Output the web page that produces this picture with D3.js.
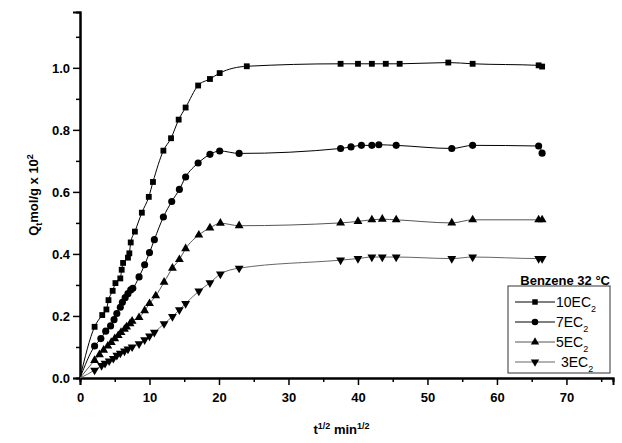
<!DOCTYPE html>
<html><head><meta charset="utf-8">
<script src="https://cdn.jsdelivr.net/npm/d3@7"></script>
<style>body{margin:0;background:#fff}text{font-family:Arial,"Liberation Sans",sans-serif}</style>
</head><body><svg id="chart" width="622" height="443"></svg>
<script>
// series data: [t^1/2, Qt]
var s10 = [[2.1,0.165],[3.2,0.203],[3.8,0.221],[4.1,0.251],[4.7,0.281],[5.1,0.306],[5.8,0.321],[6.0,0.349],[6.2,0.371],[6.9,0.388],[7.1,0.402],[7.3,0.437],[7.9,0.472],[8.9,0.533],[9.9,0.584],[10.5,0.632],[12.0,0.733],[13.1,0.773],[14.2,0.833],[15.2,0.872],[17.0,0.943],[18.7,0.964],[20.1,0.983],[24.0,1.005],[37.5,1.013],[40,1.013],[42,1.013],[44,1.013],[46,1.013],[53,1.017],[56.5,1.013],[66,1.008],[66.5,1.004]];
var s7 = [[2.1,0.103],[3.0,0.127],[3.7,0.151],[4.4,0.168],[4.9,0.188],[5.3,0.208],[5.8,0.228],[6.1,0.244],[6.5,0.259],[6.9,0.272],[7.3,0.284],[7.6,0.289],[8.5,0.326],[9.3,0.365],[10.0,0.404],[10.7,0.446],[12.0,0.519],[13.2,0.569],[14.3,0.608],[15.2,0.648],[17.0,0.693],[18.7,0.721],[20.1,0.732],[22.9,0.724],[37.5,0.74],[39,0.745],[40.5,0.75],[42,0.75],[43,0.752],[45.5,0.75],[53.5,0.74],[56.5,0.75],[66,0.748],[66.5,0.725]];
var s5 = [[2.1,0.057],[2.8,0.075],[3.4,0.090],[4.0,0.103],[4.5,0.115],[5.0,0.127],[5.5,0.137],[5.9,0.147],[6.4,0.157],[6.7,0.165],[7.2,0.175],[7.5,0.183],[8.5,0.195],[9.3,0.217],[10.0,0.240],[10.9,0.265],[12.1,0.309],[13.3,0.354],[14.3,0.382],[15.2,0.417],[17.1,0.461],[18.7,0.484],[20.2,0.499],[22.9,0.491],[37.5,0.50],[40,0.505],[42,0.51],[43.5,0.512],[45.5,0.51],[53.5,0.50],[56.5,0.51],[66,0.51],[66.5,0.51]];
var s3 = [[2.1,0.025],[3.1,0.040],[3.6,0.047],[4.2,0.055],[4.8,0.063],[5.3,0.073],[5.8,0.080],[6.4,0.087],[6.9,0.093],[7.5,0.100],[8.5,0.110],[9.3,0.123],[10.0,0.135],[10.7,0.147],[12.1,0.175],[13.3,0.198],[14.3,0.220],[15.2,0.240],[17.1,0.280],[18.7,0.307],[20.2,0.335],[22.9,0.354],[37.5,0.38],[40,0.385],[42,0.39],[43.5,0.39],[45.5,0.39],[53.5,0.385],[56.5,0.39],[66,0.385],[66.5,0.385]];
var names = ['10EC', '7EC', '5EC', '3EC'];
var xTicks = [0,10,20,30,40,50,60,70];
var yTicks = [0,0.2,0.4,0.6,0.8,1.0];

var series = [
  {name: names[0], data: s10, sym: 'square', col: '#000'},
  {name: names[1], data: s7, sym: 'circle', col: '#000'},
  {name: names[2], data: s5, sym: 'up', col: '#555'},
  {name: names[3], data: s3, sym: 'down', col: '#666'}
];

var svg = d3.select('#chart');
var m = {l: 80, r: 9, t: 12, b: 65};
var W = 622 - m.l - m.r, H = 443 - m.t - m.b;
var g = svg.append('g').attr('transform', 'translate(' + m.l + ',' + m.t + ')');
var x = d3.scaleLinear().domain([0, 76.7]).range([0, W]);
var y = d3.scaleLinear().domain([0, 1.18]).range([H, 0]);

// minor ticks
g.append('g').attr('transform', 'translate(0,' + H + ')')
  .call(d3.axisBottom(x).tickValues(d3.range(5, 76, 10)).tickSize(4).tickFormat(''));
g.append('g').call(d3.axisLeft(y).tickValues(d3.range(0.1, 1.15, 0.2)).tickSize(4).tickFormat(''));
var xa = g.append('g').attr('transform', 'translate(0,' + H + ')')
  .call(d3.axisBottom(x).tickValues(xTicks).tickSize(7).tickFormat(d3.format('d')));
var ya = g.append('g').call(d3.axisLeft(y).tickValues(yTicks).tickSize(7).tickFormat(d3.format('.1f')));
g.selectAll('.domain').attr('stroke-width', 2);
g.selectAll('.tick line').attr('stroke-width', 1.5);
g.selectAll('.tick text').attr('font-size', 13).attr('font-weight', 'bold');
xa.selectAll('.tick text').attr('dy', '1.1em');

function symPath(s, size) {
  var t = s === 'square' ? d3.symbolSquare : s === 'circle' ? d3.symbolCircle : d3.symbolTriangle;
  return d3.symbol().type(t).size(size)();
}

var line = d3.line().x(function (d) { return x(d[0]); }).y(function (d) { return y(d[1]); })
  .curve(d3.curveMonotoneX);

series.forEach(function (s) {
  g.append('path').datum([[0, 0]].concat(s.data)).attr('d', line)
    .attr('fill', 'none').attr('stroke', s.col).attr('stroke-width', 1);
  g.selectAll(null).data(s.data).enter().append('path')
    .attr('d', symPath(s.sym, s.sym === 'circle' ? 40 : 34))
    .attr('transform', function (d) {
      return 'translate(' + x(d[0]) + ',' + y(d[1]) + ')' + (s.sym === 'down' ? ' rotate(180)' : '');
    })
    .attr('fill', '#000');
});

// axis labels
var xl = svg.append('text').attr('x', m.l + W / 2 - 5).attr('y', 434).attr('text-anchor', 'middle')
  .attr('font-size', 13).attr('font-weight', 'bold');
xl.append('tspan').text('t');
xl.append('tspan').attr('dy', -5).attr('font-size', 9).text('1/2');
xl.append('tspan').attr('dy', 5).text(' min');
xl.append('tspan').attr('dy', -5).attr('font-size', 9).text('1/2');

var yl = svg.append('text').attr('transform', 'translate(38,' + (m.t + H / 2) + ') rotate(-90)')
  .attr('text-anchor', 'middle').attr('font-size', 13).attr('font-weight', 'bold');
yl.append('tspan').text('Q');
yl.append('tspan').attr('dy', 4).attr('font-size', 9).text('t');
yl.append('tspan').attr('dy', -4).text('mol/g x 10');
yl.append('tspan').attr('dy', -5).attr('font-size', 9).text('2');

// legend
svg.append('text').attr('x', 610).attr('y', 285).attr('text-anchor', 'end')
  .attr('font-size', 13).attr('font-weight', 'bold').text('Benzene 32 \u00B0C');
svg.append('rect').attr('x', 508).attr('y', 286).attr('width', 102).attr('height', 87)
  .attr('fill', '#fff').attr('stroke', '#333').attr('stroke-width', 1);
series.forEach(function (s, i) {
  var ly = 302 + i * 20;
  svg.append('line').attr('x1', 515).attr('x2', 555).attr('y1', ly).attr('y2', ly)
    .attr('stroke', s.col).attr('stroke-width', 1);
  svg.append('path').attr('d', symPath(s.sym, s.sym === 'circle' ? 34 : 30))
    .attr('transform', 'translate(535,' + ly + ')' + (s.sym === 'down' ? ' rotate(180)' : ''))
    .attr('fill', '#000');
  var t = svg.append('text').attr('x', i === 3 ? 561 : 556).attr('y', ly + 5).attr('font-size', 14);
  t.append('tspan').text(s.name);
  t.append('tspan').attr('dy', 5).attr('font-size', 9).text('2');
});
</script></body></html>
